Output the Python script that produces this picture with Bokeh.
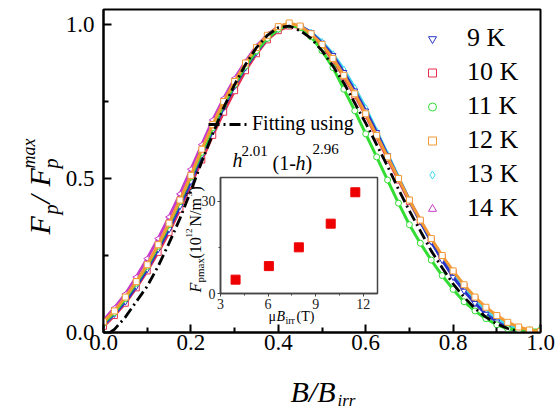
import math
from bokeh.plotting import figure
from bokeh.models import (Range1d, FixedTicker, NumeralTickFormatter, Label,
                          Legend, LegendItem)
from bokeh.embed import file_html
from bokeh.resources import INLINE

# ---------------- data ----------------
H = [0.0, 0.025, 0.05, 0.075, 0.1, 0.125, 0.15, 0.175, 0.2, 0.225, 0.25,
     0.275, 0.3, 0.325, 0.35, 0.375, 0.4, 0.425, 0.45, 0.475, 0.5, 0.525,
     0.55, 0.575, 0.6, 0.625, 0.65, 0.675, 0.7, 0.725, 0.75, 0.775, 0.8,
     0.825, 0.85, 0.875, 0.9, 0.925, 0.95, 0.975, 1.0]

t9 = [0.025, 0.06, 0.10, 0.15, 0.205, 0.27, 0.335, 0.41, 0.49, 0.575, 0.655,
      0.73, 0.80, 0.86, 0.91, 0.955, 0.985, 1.0, 0.995, 0.975, 0.94, 0.90,
      0.845, 0.785, 0.72, 0.65, 0.575, 0.50, 0.43, 0.36, 0.295, 0.235, 0.18,
      0.135, 0.095, 0.06, 0.035, 0.015, 0.003]
t10 = [0.02, 0.055, 0.095, 0.145, 0.20, 0.26, 0.325, 0.40, 0.48, 0.56, 0.64,
       0.715, 0.785, 0.85, 0.905, 0.95, 0.98, 0.995, 0.99, 0.965, 0.93, 0.885,
       0.83, 0.77, 0.705, 0.635, 0.565, 0.495, 0.425, 0.36, 0.30, 0.245, 0.195,
       0.15, 0.11, 0.075, 0.048, 0.027, 0.013, 0.005]
t11 = [0.03, 0.065, 0.11, 0.16, 0.215, 0.28, 0.35, 0.425, 0.505, 0.585, 0.665,
       0.74, 0.805, 0.865, 0.915, 0.955, 0.985, 0.998, 0.99, 0.96, 0.915, 0.86,
       0.79, 0.72, 0.645, 0.57, 0.495, 0.42, 0.35, 0.29, 0.235, 0.185, 0.14,
       0.10, 0.07, 0.045, 0.025, 0.012, 0.008, 0.008, 0.008]
t12 = [0.035, 0.07, 0.115, 0.165, 0.22, 0.285, 0.355, 0.43, 0.51, 0.595, 0.675,
       0.75, 0.815, 0.875, 0.925, 0.965, 0.993, 1.005, 0.995, 0.97, 0.935, 0.89,
       0.835, 0.775, 0.71, 0.64, 0.57, 0.50, 0.43, 0.365, 0.305, 0.25, 0.20,
       0.155, 0.115, 0.082, 0.055, 0.033, 0.018, 0.008, 0.003]
t13 = [0.025, 0.06, 0.105, 0.155, 0.21, 0.275, 0.345, 0.42, 0.50, 0.585, 0.665,
       0.74, 0.805, 0.865, 0.915, 0.958, 0.988, 1.0, 0.995, 0.975, 0.945, 0.905,
       0.855, 0.795, 0.73, 0.655, 0.58, 0.505, 0.43, 0.36, 0.295, 0.24, 0.19,
       0.145, 0.105, 0.072, 0.045, 0.025, 0.01]
t14 = [0.04, 0.08, 0.125, 0.18, 0.24, 0.305, 0.375, 0.45, 0.53, 0.61, 0.69,
       0.76, 0.825, 0.88, 0.93, 0.967, 0.993, 1.003, 0.993, 0.968, 0.932, 0.888,
       0.835, 0.775, 0.71, 0.64, 0.57, 0.50, 0.43, 0.365, 0.30, 0.245, 0.195,
       0.15, 0.11, 0.077, 0.05, 0.028, 0.012]

fit_h = [0.015, 0.025, 0.05, 0.075, 0.1, 0.125, 0.15, 0.175, 0.2, 0.225, 0.25,
         0.275, 0.3, 0.325, 0.35, 0.375, 0.4, 0.425, 0.45, 0.475, 0.5, 0.525,
         0.55, 0.575, 0.6, 0.625, 0.65, 0.675, 0.7, 0.725, 0.75, 0.775, 0.8,
         0.825, 0.85, 0.875, 0.9, 0.925, 0.95]
fit_v = [0.0, 0.01, 0.05, 0.10, 0.15, 0.215, 0.29, 0.37, 0.46, 0.555, 0.645,
         0.73, 0.805, 0.87, 0.925, 0.965, 0.99, 0.995, 0.98, 0.955, 0.915, 0.865,
         0.81, 0.745, 0.68, 0.61, 0.54, 0.465, 0.395, 0.33, 0.265, 0.21, 0.158,
         0.115, 0.078, 0.05, 0.028, 0.013, 0.004]

series_labels = ["9 K", "10 K", "11 K", "12 K", "13 K", "14 K"]
x_ticks = [0.0, 0.2, 0.4, 0.6, 0.8, 1.0]
x_minor = [0.1, 0.3, 0.5, 0.7, 0.9]
y_ticks = [0.0, 0.5, 1.0]
y_minor = [0.25, 0.75]

inset_birr = [3.95, 6.05, 7.94, 9.95, 11.5]
inset_fpmax = [4.5, 8.9, 15.0, 22.7, 32.9]
inset_x_ticks = [3, 6, 9, 12]
inset_x_minor = [4.5, 7.5, 10.5]
inset_y_ticks = [0, 30]
inset_y_minor = [15]

SERIF = "Liberation Serif"


def place(left, top):
    return {"position": "absolute", "left": f"{left}px", "top": f"{top}px"}


# ---------------- main figure ----------------
p = figure(frame_width=437, frame_height=323, min_border_left=103,
           min_border_right=18, min_border_top=9, min_border_bottom=77,
           x_range=Range1d(0, 1), y_range=Range1d(0, 323 / 308),
           toolbar_location=None, output_backend="svg", styles=place(0, 0))
p.grid.visible = False
p.outline_line_color = "black"
p.outline_line_width = 2
p.background_fill_color = "white"
p.border_fill_color = "white"

for ax, ticks, minor in ((p.xaxis[0], x_ticks, x_minor), (p.yaxis[0], y_ticks, y_minor)):
    ax.ticker = FixedTicker(ticks=ticks, minor_ticks=minor)
    ax.formatter = NumeralTickFormatter(format="0.0")
    ax.axis_line_width = 2
    ax.major_tick_line_width = 2
    ax.minor_tick_line_width = 2
    ax.major_tick_in = 8
    ax.major_tick_out = 0
    ax.minor_tick_in = 5
    ax.minor_tick_out = 0
    ax.major_label_text_font = SERIF
    ax.major_label_text_font_size = "23px"
    ax.major_label_text_color = "black"
p.xaxis[0].major_label_standoff = 2
p.yaxis[0].major_label_standoff = 9

colors = {"9 K": "#2b35c8", "10 K": "#e8304e", "11 K": "#33dd33",
          "12 K": "#f39a35", "13 K": "#3fd8f0", "14 K": "#c83cc8"}
markers = {"9 K": ("inverted_triangle", 0.0), "10 K": ("square", 0.0),
           "11 K": ("circle", 0.0), "12 K": ("square", 0.0),
           "13 K": ("diamond", 0.0), "14 K": ("triangle", math.pi / 2)}
vals = {"9 K": t9, "10 K": t10, "11 K": t11, "12 K": t12, "13 K": t13, "14 K": t14}

scatter_r = {}
for lab_ in ["14 K", "10 K", "13 K", "9 K", "11 K", "12 K"]:
    v = vals[lab_]
    hx = H[:len(v)]
    c = colors[lab_]
    p.line(hx, v, line_color=c, line_width=3)
    mk, ang = markers[lab_]
    scatter_r[lab_] = p.scatter(hx, v, marker=mk, angle=ang, size=6,
                                line_color=c, fill_color="white", line_width=1)

rfit = p.line(fit_h, fit_v, line_color="black", line_width=2.8,
              line_dash="11 4 2 4")

leg = Legend(items=[LegendItem(label=l, renderers=[scatter_r[l]]) for l in series_labels],
             location=(319, 109), orientation="vertical",
             glyph_width=20, glyph_height=21, label_height=21, spacing=4,
             padding=0, margin=0, label_standoff=25,
             label_text_font=SERIF, label_text_font_size="26px",
             label_text_color="black", border_line_color=None,
             background_fill_alpha=0)
p.add_layout(leg)

leg2 = Legend(items=[LegendItem(label="Fitting using", renderers=[rfit])],
              location=(105, 197), glyph_width=42, glyph_height=18,
              label_height=18, padding=0, margin=0, label_standoff=2,
              label_text_font=SERIF, label_text_font_size="20px",
              label_text_color="black", border_line_color=None,
              background_fill_alpha=0)
p.add_layout(leg2)

# ---------------- inset figure ----------------
inset = figure(frame_width=157, frame_height=116, min_border_left=42,
               min_border_right=5, min_border_top=3, min_border_bottom=28,
               x_range=Range1d(3, 12.9), y_range=Range1d(0, 37.7),
               toolbar_location=None, output_backend="svg",
               styles=place(178, 174))
inset.grid.visible = False
inset.border_fill_color = None
inset.background_fill_color = "white"
inset.outline_line_color = "#444444"
inset.outline_line_width = 1.5
for ax, ticks, minor in ((inset.xaxis[0], inset_x_ticks, inset_x_minor),
                         (inset.yaxis[0], inset_y_ticks, inset_y_minor)):
    ax.ticker = FixedTicker(ticks=ticks, minor_ticks=minor)
    ax.axis_line_color = "#444444"
    ax.axis_line_width = 1.5
    ax.major_tick_line_color = "#444444"
    ax.minor_tick_line_color = "#444444"
    ax.major_tick_in = 0
    ax.major_tick_out = 3
    ax.minor_tick_in = 0
    ax.minor_tick_out = 2
    ax.major_label_text_font = SERIF
    ax.major_label_text_font_size = "14px"
    ax.major_label_text_color = "#222222"
    ax.major_label_standoff = 2

inset.scatter(inset_birr, inset_fpmax, marker="square", size=9,
              fill_color="#ee0000", line_color="#ee0000")

# ---------------- transparent text layer (page pixel coordinates) ----------------
txt = figure(width=558, height=409, min_border=0, x_range=Range1d(0, 558),
             y_range=Range1d(409, 0), x_axis_type=None, y_axis_type=None,
             toolbar_location=None, output_backend="svg", styles=place(0, 0))
txt.grid.visible = False
txt.background_fill_color = None
txt.border_fill_color = None
txt.outline_line_color = None


def lab(X, Y, text, size, style="normal", angle=0.0):
    txt.add_layout(Label(x=X, y=Y, text=text, angle=angle,
                         text_font=SERIF, text_font_size=f"{size}px",
                         text_font_style=style, text_color="black",
                         text_align="left", text_baseline="alphabetic"))


R = math.pi / 2

# fitting formula
lab(232, 159, "h", 20, "italic")
lab(241, 150, "2.01", 15)
lab(272, 162, "(1-", 20)
lab(295, 162, "h", 20, "italic")
lab(305, 162, ")", 20)
lab(312, 148, "2.96", 15)

# main x axis label
lab(290, 391, "B/B", 30, "italic")
lab(337, 400, "irr", 17, "italic")

# main y axis label (rotated)
lab(39, 234, "F", 30, "italic", R)
lab(50, 214, "p", 20, "italic", R)
lab(39, 203, "/", 30, "italic", R)
lab(39, 186, "F", 30, "italic", R)
lab(50, 168, "p", 20, "italic", R)
lab(28, 168, "max", 18, "italic", R)

# inset x axis label
lab(268, 316, "\u03bc", 14)
lab(276, 316, "B", 14, "italic")
lab(285, 320, "irr", 10)
lab(296, 316, "(T)", 14)

# inset y axis label (rotated)
lab(195, 292, "F", 16, "italic", R)
lab(199, 282, "pmax", 11, "normal", R)
lab(195, 258, "(10", 16, "normal", R)
lab(188, 237, "12", 9, "normal", R)
lab(195, 226, "N/m", 16, "normal", R)
lab(188, 196, "3", 9, "normal", R)
lab(195, 191, ")", 16, "normal", R)

open("out.html", "w").write(file_html([p, inset, txt], INLINE))
